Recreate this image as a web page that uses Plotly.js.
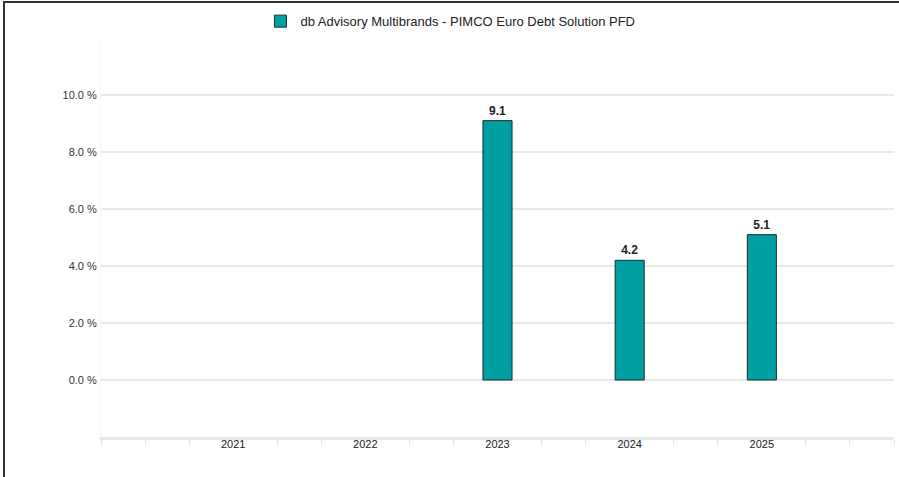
<!DOCTYPE html>
<html>
<head>
<meta charset="utf-8">
<script src="https://cdn.plot.ly/plotly-3.0.1.min.js"></script>
<style>
  html, body { margin: 0; padding: 0; background: #fff; }
  #frame { position: absolute; left: 3px; top: 1px; width: 896px; height: 476px;
           border-left: 2px solid #333; border-top: 2px solid #333; box-sizing: border-box; }
  #chart { position: absolute; left: 0; top: 0; width: 899px; height: 477px; }
</style>
</head>
<body>
<div id="chart"></div>
<div id="frame"></div>
<script>
const seriesName = "db Advisory Multibrands - PIMCO Euro Debt Solution PFD";
const years = [2021, 2022, 2023, 2024, 2025];
const values = [null, null, 9.1, 4.2, 5.1];
const valueLabels = ["", "", "9.1", "4.2", "5.1"];
const yTickVals = [-2, 0, 2, 4, 6, 8, 10, 12];
const yTickText = ["", "0.0 %", "2.0 %", "4.0 %", "6.0 %", "8.0 %", "10.0 %", ""];

const minorX = [];
for (let y = 2020; y <= 2026; y++) {
  [0, 1/3, 2/3].forEach(f => {
    const v = y + f;
    if (v <= 2026 && (f !== 0 || y === 2020 || y === 2026)) minorX.push(v);
  });
}

const trace = {
  type: 'bar',
  name: seriesName,
  x: years,
  y: values,
  width: 0.22,
  text: valueLabels,
  textposition: 'outside',
  cliponaxis: false,
  textfont: { family: 'Liberation Sans, Arial, sans-serif', size: 12, color: '#222', weight: 'bold' },
  marker: { color: '#009fa3', line: { color: '#1f2a2a', width: 1 } },
  showlegend: true
};

const layout = {
  width: 899, height: 477,
  margin: { l: 101, r: 5, t: 38, b: 40 },
  paper_bgcolor: '#fff', plot_bgcolor: '#fff',
  font: { family: 'Liberation Sans, Arial, sans-serif', size: 11, color: '#333' },
  showlegend: true,
  legend: {
    orientation: 'h', x: 0.4407, xanchor: 'center', y: 0.987, yref: 'container', yanchor: 'top',
    font: { size: 13, color: '#222' }, itemwidth: 30
  },
  bargap: 0,
  xaxis: {
    type: 'linear', range: [2020, 2026],
    tickmode: 'array', tickvals: years, ticktext: years.map(String),
    ticks: '', showgrid: false, zeroline: false,
    showline: true, linecolor: '#e8e8e8', linewidth: 3,
    ticklabelstandoff: -5,
    tickfont: { size: 11, color: '#222' },
    minor: { tickmode: 'array', tickvals: minorX, ticks: 'outside', ticklen: 5, tickcolor: '#e0e0e0', tickwidth: 1, showgrid: false }
  },
  yaxis: {
    range: [-2, 12], tickmode: 'array', tickvals: yTickVals, ticktext: yTickText,
    showgrid: true, gridcolor: '#e8e8e8', gridwidth: 1.5,
    zeroline: false, showline: true, linecolor: '#f6f6f6', linewidth: 1,
    ticks: '', ticklabelstandoff: 1,
    tickfont: { size: 11, color: '#333' }
  }
};

Plotly.newPlot('chart', [trace], layout, { displayModeBar: false, staticPlot: true });
</script>
</body>
</html>
